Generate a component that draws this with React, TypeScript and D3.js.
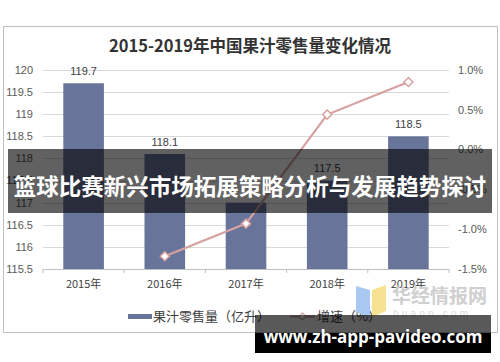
import React from "react";
import * as d3 from "d3";

const categories = ["2015年", "2016年", "2017年", "2018年", "2019年"];
const salesValues = [119.7, 118.1, 117.0, 117.5, 118.5];
const salesLabels = ["119.7", "118.1", "", "117.5", "118.5"];
const growthValues: (number | null)[] = [null, -1.34, -0.93, 0.44, 0.85];
const leftTicks = [115.5, 116, 116.5, 117, 117.5, 118, 118.5, 119, 119.5, 120];
const rightTicks = [-1.5, -1.0, -0.5, 0.0, 0.5, 1.0];

const W = 500;
const H = 362;
const plotLeft = 43;
const plotRight = 449;
const plotTop = 70;
const plotBottom = 269;
const barColor = "#69749b";
const lineColor = "#d6a1a1";
const numFont = "'Liberation Sans', Arial, sans-serif";
const cjkFont = "'Noto Sans CJK SC', 'Liberation Sans', sans-serif";

export default function App() {
  const x = d3.scaleBand<string>().domain(categories).range([plotLeft, plotRight]).paddingInner(0.5).paddingOuter(0.25);
  const xc = (c: string) => (x(c) ?? 0) + x.bandwidth() / 2;
  const yL = d3.scaleLinear().domain([115.5, 120]).range([plotBottom, plotTop]);
  const yR = d3.scaleLinear().domain([-1.5, 1.0]).range([plotBottom, plotTop]);
  const step = (plotRight - plotLeft) / categories.length;
  const pts = categories
    .map((c, i) => ({ c, v: growthValues[i] }))
    .filter((d) => d.v !== null) as { c: string; v: number }[];
  const line = d3
    .line<{ c: string; v: number }>()
    .x((d) => xc(d.c))
    .y((d) => yR(d.v));
  const diamond = (cx: number, cy: number, r: number) =>
    `M${cx},${cy - r}L${cx + r},${cy}L${cx},${cy + r}L${cx - r},${cy}Z`;

  return (
    <svg width={W} height={H} style={{ position: "absolute", left: 0, top: 0, background: "#fff" }}>
      <rect x={3.5} y={26.5} width={494} height={306} fill="#fff" stroke="#bfbfbf" />
      <text x={250} y={52} textAnchor="middle" fontFamily={cjkFont} fontWeight="bold" fontSize={16.5} fill="#333">
        2015-2019年中国果汁零售量变化情况
      </text>
      {leftTicks.map((t) => (
        <g key={"g" + t}>
          {t !== 115.5 && (
            <line x1={plotLeft} x2={plotRight} y1={Math.round(yL(t)) + 0.5} y2={Math.round(yL(t)) + 0.5} stroke="#d9d9d9" />
          )}
          <text x={33} y={yL(t)} dy="0.35em" textAnchor="end" fontFamily={numFont} fontSize={11} fill="#595959">
            {t}
          </text>
        </g>
      ))}
      {rightTicks.map((t) => (
        <text key={"r" + t} x={458} y={yR(t)} dy="0.35em" fontFamily={numFont} fontSize={11} fill="#595959">
          {t.toFixed(1) + "%"}
        </text>
      ))}
      {categories.map((c, i) => (
        <g key={c}>
          <rect x={x(c)} y={yL(salesValues[i])} width={x.bandwidth()} height={plotBottom - yL(salesValues[i])} fill={barColor} />
          {salesLabels[i] && (
            <text x={xc(c)} y={yL(salesValues[i]) - 12} dy="0.35em" textAnchor="middle" fontFamily={numFont} fontSize={11} fill="#404040">
              {salesLabels[i]}
            </text>
          )}
          <text x={xc(c)} y={284} dy="0.35em" textAnchor="middle" fontFamily={cjkFont} fontSize={11} fill="#404040">
            {c}
          </text>
        </g>
      ))}
      <line x1={plotLeft} x2={plotRight} y1={plotBottom + 0.5} y2={plotBottom + 0.5} stroke="#bfbfbf" />
      {d3.range(categories.length + 1).map((i) => (
        <line key={"t" + i} x1={plotLeft + i * step} x2={plotLeft + i * step} y1={plotBottom} y2={plotBottom + 4} stroke="#bfbfbf" />
      ))}
      <path d={line(pts) ?? ""} fill="none" stroke={lineColor} strokeWidth={2.2} />
      {pts.map((p) => (
        <path key={"m" + p.c} d={diamond(xc(p.c), yR(p.v), 4.5)} fill="#fff" stroke={lineColor} strokeWidth={1.5} />
      ))}
      {/* legend */}
      <rect x={128} y={314} width={24} height={5} fill={barColor} />
      <text x={153} y={316.5} dy="0.35em" fontFamily={cjkFont} fontSize={13} fill="#404040">
        果汁零售量（亿升）
      </text>
      <line x1={290} x2={315} y1={316.5} y2={316.5} stroke={lineColor} strokeWidth={2.2} />
      <path d={diamond(302.5, 316.5, 3.5)} fill="#fff" stroke={lineColor} strokeWidth={1.2} />
      <text x={317} y={316.5} dy="0.35em" fontFamily={cjkFont} fontSize={13} fill="#404040">
        增速（%）
      </text>
      {/* watermark */}
      <polygon points="356,286 370,290 370,318 356,312" fill="#a9c9f2" />
      <polygon points="372,290 386,285 386,311 372,317" fill="#f6e290" />
      <text x={392} y={303} fontFamily={cjkFont} fontWeight="bold" fontSize={19} fill="#cfcfcf">
        华经情报网
      </text>
      <text x={393} y={317} fontFamily={numFont} fontSize={10} fill="#dcdcdc" letterSpacing={3.2}>
        huaon.com
      </text>
      {/* banners */}
      <rect x={8} y={149} width={484} height={64} fill="#000" fillOpacity={0.62} />
      <text x={250} y={187} dy="0.35em" textAnchor="middle" fontFamily={cjkFont} fontWeight="bold" fontSize={22.5} fill="#fff">
        篮球比赛新兴市场拓展策略分析与发展趋势探讨
      </text>
      <rect x={255} y={315} width={236} height={18} fill="#000" fillOpacity={0.65} />
      <rect x={255} y={333} width={236} height={20} fill="#000" />
      <text x={373} y={337} dy="0.35em" textAnchor="middle" fontFamily="'Open Sans', 'DejaVu Sans', sans-serif" fontWeight="bold" fontSize={17} fill="#fff">
        www.zh-app-pavideo.com
      </text>
    </svg>
  );
}
